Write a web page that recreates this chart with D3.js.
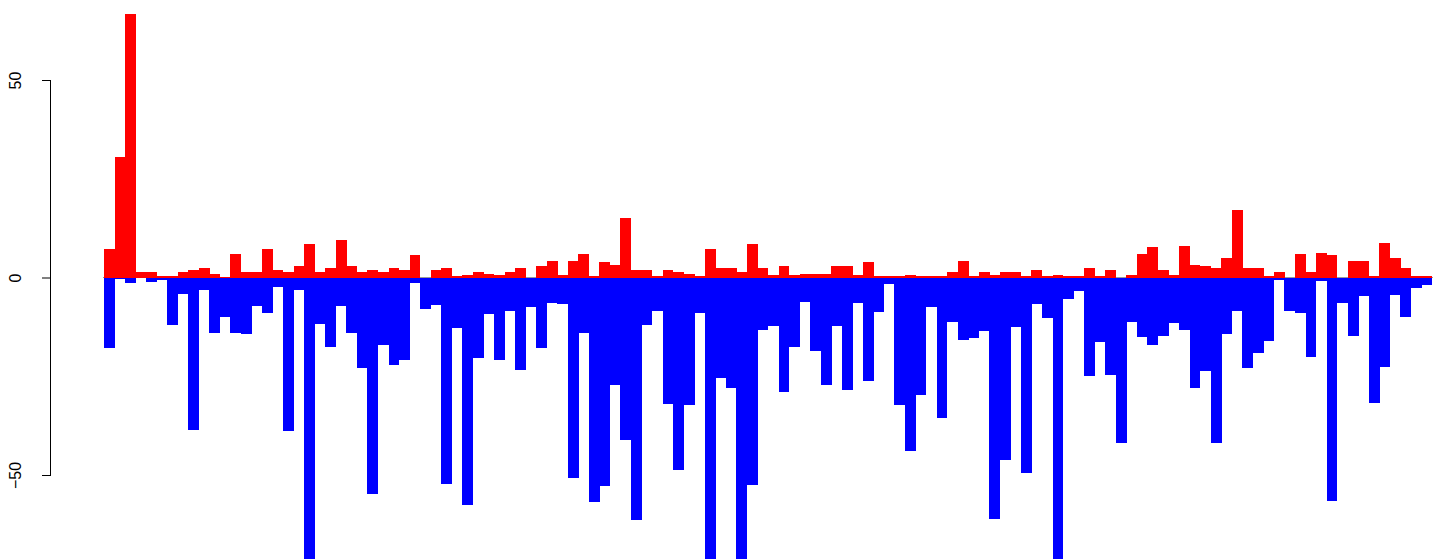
<!DOCTYPE html>
<html>
<head>
<meta charset="utf-8">
<script src="https://cdn.jsdelivr.net/npm/d3@7"></script>
<style>
  html, body { margin: 0; padding: 0; background: #ffffff; }
  svg { display: block; }
</style>
</head>
<body>
<div id="chart"></div>
<script>
// Positive (red) series, one value per bar
const positiveValues = [
  7.1, 30.4, 66.8, 1.3, 1.5, 0.4, 0.4, 1.3, 1.8, 2.5, 1.0, 0.1, 5.9, 1.3, 1.3, 7.1,
  1.8, 1.3, 2.8, 8.5, 1.5, 2.3, 9.4, 2.8, 1.3, 2.0, 1.5, 2.3, 1.8, 5.6, 0.0, 2.0,
  2.3, 0.4, 0.7, 1.5, 1.0, 0.7, 1.5, 2.3, 0.0, 2.8, 4.3, 0.7, 4.3, 5.9, 0.5, 3.8,
  3.1, 15.1, 1.8, 1.8, 0.5, 1.8, 1.5, 1.0, 0.3, 7.3, 2.5, 2.5, 1.5, 8.6, 2.5, 0.7,
  2.8, 0.7, 1.0, 1.0, 1.0, 2.8, 2.8, 0.7, 3.8, 0.5, 0.3, 0.3, 0.7, 0.5, 0.5, 0.3,
  1.5, 4.1, 0.3, 1.3, 0.7, 1.3, 1.5, 0.5, 2.0, 0.5, 0.7, 0.3, 0.5, 2.3, 0.3, 1.8,
  0.0, 0.7, 5.9, 7.6, 1.8, 0.7, 8.1, 3.2, 2.8, 2.5, 5.0, 17.0, 2.3, 2.5, 0.3, 1.5,
  0.0, 6.0, 1.5, 6.3, 5.6, 0.0, 4.3, 4.1, 0.3, 8.8, 5.0, 2.3, 0.3, 0.3
];
// Negative (blue) series, one value per bar
const negativeValues = [
  -17.9, -0.5, -1.4, -0.2, -1.2, -0.7, -12.1, -4.1, -38.6, -3.1, -14.1, -10.0, -14.1, -14.3, -7.2, -9.0,
  -2.3, -38.9, -3.1, -75.0, -11.8, -17.5, -7.1, -14.1, -22.9, -54.8, -17.1, -22.1, -20.9, -1.5, -8.0, -7.0,
  -52.3, -12.8, -57.6, -20.4, -9.3, -20.9, -8.5, -23.4, -7.5, -17.9, -6.5, -6.8, -50.7, -14.1, -56.9, -52.8,
  -27.1, -41.1, -61.4, -11.9, -8.6, -32.1, -48.8, -32.4, -9.1, -75.0, -25.5, -28.1, -75.0, -52.6, -13.4, -12.3,
  -29.1, -17.5, -6.3, -18.7, -27.3, -12.2, -28.6, -6.5, -26.1, -8.8, -1.7, -32.4, -44.0, -29.8, -7.5, -35.6,
  -11.3, -15.9, -15.3, -13.6, -61.1, -46.3, -12.5, -49.5, -6.8, -10.3, -75.0, -5.5, -3.5, -25.0, -16.3, -24.7,
  -41.9, -11.3, -15.1, -17.1, -14.8, -11.5, -13.3, -28.0, -23.7, -41.9, -14.3, -8.5, -22.9, -19.1, -16.1, -0.6,
  -8.5, -9.1, -20.1, -1.0, -56.5, -6.5, -14.8, -4.7, -31.8, -22.6, -4.5, -10.0, -2.7, -2.0
];
const categories = positiveValues.map((_, i) => i);
const yTicks = [-50, 0, 50];

const W = 1433, H = 559;
const svg = d3.select("#chart").append("svg")
  .attr("width", W).attr("height", H);

const x = d3.scaleBand().domain(categories).range([104, 1432]).padding(0);
const y = d3.scaleLinear().domain([-50, 50]).range([475, 80]);

// zero reference line (under bars)
svg.append("line")
  .attr("x1", 103).attr("x2", 1433)
  .attr("y1", y(0)).attr("y2", y(0))
  .attr("stroke", "#999").attr("stroke-width", 1);

svg.append("g").attr("shape-rendering", "crispEdges")
  .selectAll("rect.pos").data(positiveValues).join("rect")
  .attr("x", (d, i) => x(i))
  .attr("width", x.bandwidth() + 0.3)
  .attr("y", d => y(Math.max(0, d)))
  .attr("height", d => Math.abs(y(d) - y(0)))
  .attr("fill", "#ff0000");

svg.append("g").attr("shape-rendering", "crispEdges")
  .selectAll("rect.neg").data(negativeValues).join("rect")
  .attr("x", (d, i) => x(i))
  .attr("width", x.bandwidth() + 0.3)
  .attr("y", y(0))
  .attr("height", d => Math.abs(y(d) - y(0)))
  .attr("fill", "#0000ff");

// Y axis (R style: rotated labels)
const axis = d3.axisLeft(y).tickValues(yTicks).tickSize(9).tickPadding(0)
  .tickFormat(d => d < 0 ? "\u2212" + Math.abs(d) : String(d));
const ag = svg.append("g").attr("transform", "translate(51,0)").call(axis);
ag.select(".domain").attr("d", `M-0.5,${y(50)}V${y(-50)}`).attr("stroke", "#000");
ag.selectAll(".tick line").attr("stroke", "#000");
ag.selectAll(".tick text")
  .attr("x", 0).attr("dy", null)
  .attr("transform", "translate(-36,0) rotate(-90)")
  .attr("text-anchor", "middle")
  .attr("dominant-baseline", "central")
  .style("font-family", "'Liberation Sans', Arial, Helvetica, sans-serif")
  .style("font-size", "16px")
  .attr("fill", "#000");
</script>
</body>
</html>
